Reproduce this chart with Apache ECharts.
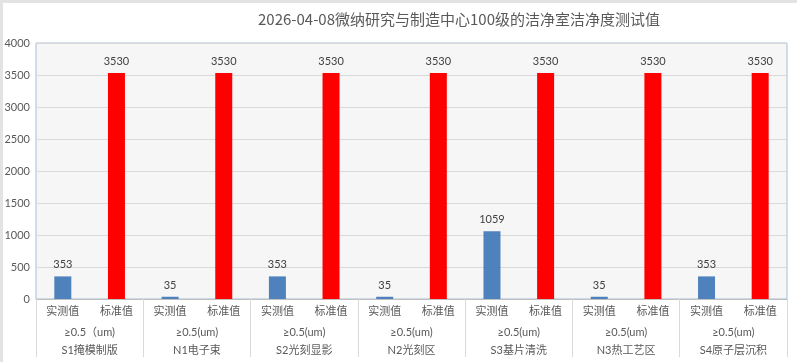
<!DOCTYPE html>
<html><head><meta charset="utf-8">
<script src="https://cdn.jsdelivr.net/npm/echarts@6/dist/echarts.min.js"></script>
<style>html,body{margin:0;padding:0;background:#fff}#c{width:797px;height:362px}</style>
</head><body><div id="c"></div>
<script>
const titleText = '2026-04-08微纳研究与制造中心100级的洁净室洁净度测试值';
const groups = ['S1掩模制版','N1电子束','S2光刻显影','N2光刻区','S3基片清洗','N3热工艺区','S4原子层沉积'];
const sizeLabels = ['≥0.5（um)','≥0.5(um)','≥0.5(um)','≥0.5(um)','≥0.5(um)','≥0.5(um)','≥0.5(um)'];
const subCats = ['实测值','标准值'];
const measured = [353, 35, 353, 35, 1059, 35, 353];
const standard = [3530, 3530, 3530, 3530, 3530, 3530, 3530];
const yTicks = {min: 0, max: 4000, interval: 500};

const cats14 = [], s1 = [], s2 = [];
groups.forEach((g, i) => {
  cats14.push(subCats[0], subCats[1]);
  s1.push(measured[i], null);
  s2.push(null, standard[i]);
});
const groupLabels = groups.map((g, i) => sizeLabels[i] + '\n' + g);
const FF = "Lato, 'Noto Sans CJK SC', sans-serif";
const chart = echarts.init(document.getElementById('c'));
chart.setOption({
  animation: false,
  textStyle: {fontFamily: FF},
  graphic: [
    {type: 'rect', z: -10, shape: {x: 0, y: 0, width: 797, height: 362}, style: {fill: '#e3e3e3'}},
    {type: 'rect', z: -9, shape: {x: 3, y: 3, width: 794, height: 359}, style: {fill: '#ffffff'}}
  ],
  title: {text: titleText, left: 253, top: 7, textStyle: {fontSize: 15, fontWeight: 'normal', color: '#595959', fontFamily: "'Noto Sans CJK SC', sans-serif"}},
  grid: {left: 36, right: 10, top: 43, bottom: 63, show: true, borderColor: '#a8bedc', borderWidth: 1, backgroundColor: '#f6f6f6'},
  xAxis: [
    {type: 'category', data: cats14, axisLine: {lineStyle: {color: '#bfbfbf'}}, axisTick: {show: false},
     axisLabel: {color: '#595959', fontSize: 11, margin: 7, interval: 0, fontFamily: FF}},
    {type: 'category', data: groupLabels, position: 'bottom', axisLine: {show: false},
     axisTick: {show: true, length: 58, interval: 0, lineStyle: {color: '#d9d9d9'}},
     axisLabel: {color: '#595959', fontSize: 11, margin: 24, lineHeight: 18, interval: 0, fontFamily: FF}}
  ],
  yAxis: {type: 'value', min: yTicks.min, max: yTicks.max, interval: yTicks.interval,
    axisLine: {show: false}, axisTick: {show: false},
    axisLabel: {color: '#595959', fontSize: 11, margin: 6, fontFamily: FF, formatter: v => String(v)},
    splitLine: {lineStyle: {color: '#d9d9d9'}}},
  series: [
    {name: '实测值', type: 'bar', data: s1, barWidth: 17, barGap: '-100%', itemStyle: {color: '#4f81bd'},
     label: {show: true, position: 'top', distance: 6, color: '#404040', fontSize: 11, fontFamily: FF}},
    {name: '标准值', type: 'bar', data: s2, barWidth: 17, barGap: '-100%', itemStyle: {color: '#ff0000'},
     label: {show: true, position: 'top', distance: 6, color: '#404040', fontSize: 11, fontFamily: FF}}
  ]
});
</script></body></html>
